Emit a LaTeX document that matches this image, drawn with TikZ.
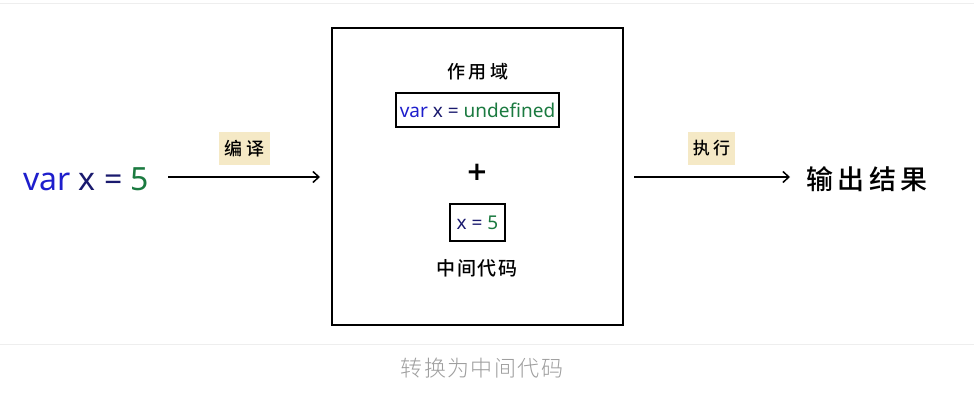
\documentclass[tikz,border=0pt]{standalone}
\usepackage{fontspec}
\setmainfont{Noto Sans}
\newfontfamily\cjk{Noto Sans CJK SC Medium}
\newfontfamily\cjklight{Noto Sans CJK SC Light}
\newfontfamily\plusfont{DejaVu Sans}
\newcommand{\spaced}[2]{\def\myskip{\kern#1}\spacedloop#2\relax}
\def\spacedloop#1#2{\ifx#2\relax #1\else #1\myskip\expandafter\spacedloop\expandafter#2\fi}
\usetikzlibrary{arrows.meta}
\definecolor{kwblue}{HTML}{1E1ECC}
\definecolor{navy}{HTML}{1A1A6E}
\definecolor{valgreen}{HTML}{1B7A40}
\definecolor{labelbg}{HTML}{F5E9C6}
\definecolor{sepgray}{HTML}{EEEEEE}
\definecolor{capgray}{HTML}{9E9E9E}
\tikzset{
  flow/.style={line width=1.7pt, -{Straight Barb[length=6pt,width=11pt,line width=1.5pt]}},
  tag/.style={fill=labelbg, inner sep=0pt, minimum height=33pt},
  codebox/.style={draw, line width=1.4pt, inner sep=0pt, font=\fontsize{19}{22}\selectfont},
}
\begin{document}
\begin{tikzpicture}[x=1pt,y=-1pt]
\useasboundingbox (0,0) rectangle (974,412);
\fill[white] (0,0) rectangle (974,412);
\draw[sepgray, line width=1pt] (0,4) -- (974,4);
\draw[sepgray, line width=1pt] (0,344) -- (974,344);

\node (src) at (86,179) {\fontsize{32}{36}\selectfont\textcolor{kwblue}{var} \textcolor{navy}{x =} \textcolor{valgreen}{5}};

\node[draw, line width=1.9pt, minimum width=291pt, minimum height=297pt] (scope) at (477.5,176.5) {};

\coordinate (a1s) at (168,177);
\coordinate (a1e) at (320,177);
\draw[flow] (a1s) -- (a1e);
\node[tag, minimum width=51pt, font=\cjk\fontsize{18}{20}\selectfont] (t1) at (244.5,148.5) {\spaced{4pt}{编译}};

\node[font=\cjk\fontsize{18}{20}\selectfont] (scl) at (478,72) {\spaced{3.5pt}{作用域}};
\node[codebox, minimum width=163pt, minimum height=34pt] (decl) at (477.5,110) {\textcolor{kwblue}{var} \textcolor{navy}{x =} \textcolor{valgreen}{undefined}};
\node[font=\plusfont\bfseries\fontsize{26}{28}\selectfont] (plus) at (477,172) {+};
\node[codebox, minimum width=55pt, minimum height=37pt] (assign) at (477.5,222.5) {\textcolor{navy}{x =} \textcolor{valgreen}{5}};
\node[font=\cjk\fontsize{19}{22}\selectfont] (mid) at (477,268) {\spaced{1.5pt}{中间代码}};

\coordinate (a2s) at (634,177);
\coordinate (a2e) at (790,177);
\draw[flow] (a2s) -- (a2e);
\node[tag, minimum width=47pt, font=\cjk\fontsize{17}{20}\selectfont] (t2) at (711.5,148.5) {\spaced{3.5pt}{执行}};

\node[font=\cjk\fontsize{27}{30}\selectfont] (out) at (867,179) {\spaced{4.5pt}{输出结果}};

\node[font=\cjklight\fontsize{22}{26}\selectfont, text=capgray] (cap) at (482,368) {\spaced{1.5pt}{转换为中间代码}};
\end{tikzpicture}
\end{document}
